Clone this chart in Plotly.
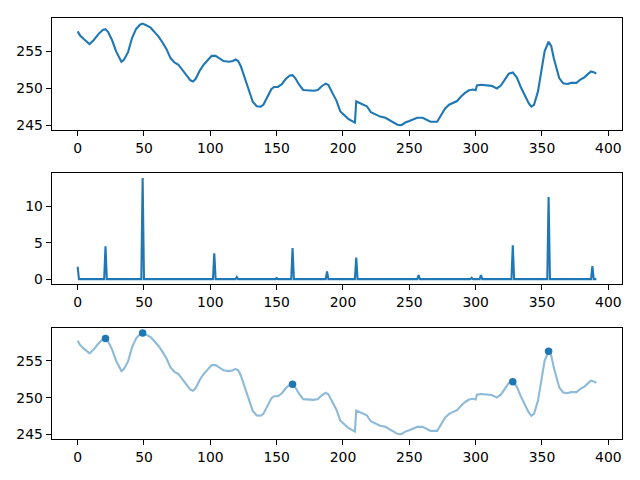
import plotly.graph_objects as go

# ---- data ----
top_x = [0, 2, 5, 9, 12, 16, 19, 21, 23, 26, 29, 32, 33, 35, 38, 41, 44, 47, 49, 52, 55, 58, 61, 64, 67, 70,
         73, 76, 79, 82, 85, 87, 89, 92, 95, 98, 101, 104, 107, 110, 114, 117, 119, 121, 123, 126, 129, 132,
         135, 138, 140, 143, 146, 148, 151, 154, 157, 160, 162, 164, 167, 170, 174, 178, 181, 184, 187, 189,
         192, 195, 198, 201, 204, 207, 209, 210, 213, 216, 218, 221, 224, 228, 232, 235, 238, 241, 244, 247,
         250, 253, 256, 260, 263, 266, 271, 274, 277, 280, 283, 286, 289, 292, 295, 298, 300, 301, 304, 309,
         312, 316, 319, 322, 325, 328, 331, 334, 337, 340, 342, 344, 347, 350, 352, 355, 357, 359, 361, 363,
         366, 369, 372, 376, 379, 382, 385, 387, 389, 391]
top_y = [257.7, 257.1, 256.6, 256.0, 256.5, 257.4, 257.9, 258.0, 257.6, 256.5, 255.0, 253.8, 253.6, 253.9,
         254.9, 256.8, 258.0, 258.6, 258.75, 258.5, 258.2, 257.6, 257.0, 256.2, 255.3, 254.1, 253.5, 253.2,
         252.5, 251.7, 251.1, 250.95, 251.3, 252.4, 253.2, 253.8, 254.4, 254.4, 254.1, 253.7, 253.6, 253.7,
         253.9, 253.7, 253.0, 251.3, 249.7, 248.2, 247.6, 247.55, 247.8, 248.8, 249.9, 250.2, 250.2, 250.6,
         251.3, 251.75, 251.8, 251.4, 250.5, 249.8, 249.75, 249.7, 249.8, 250.3, 250.65, 250.45, 249.4, 248.4,
         246.9, 246.4, 245.9, 245.6, 245.4, 248.25, 248.0, 247.85, 247.6, 246.8, 246.5, 246.2, 246.05, 245.75,
         245.5, 245.1, 245.05, 245.4, 245.6, 245.8, 246.05, 246.05, 245.75, 245.5, 245.5, 246.5, 247.3, 247.8,
         248.0, 248.3, 248.9, 249.4, 249.75, 249.85, 249.75, 250.4, 250.5, 250.45, 250.35, 250.0, 250.4, 251.2,
         252.0, 252.15, 251.5, 250.2, 249.0, 248.0, 247.55, 247.8, 249.6, 252.8, 255.0, 256.3, 255.7, 254.0,
         252.5, 251.4, 250.7, 250.6, 250.75, 250.75, 251.2, 251.5, 252.0, 252.3, 252.2, 252.0]

n_points = 392
spike_idx = [0, 21, 49, 103, 120, 150, 162, 188, 210, 257, 297, 304, 328, 355, 388]
spike_val = [1.7, 4.5, 13.85, 3.55, 0.3, 0.15, 4.25, 1.05, 2.95, 0.55, 0.18, 0.55, 4.65, 11.25, 1.8]

peak_idx = [21, 49, 162, 328, 355]

# ---- build derived series ----
mid_x = list(range(n_points))
mid_y = [0.0] * n_points
for i, v in zip(spike_idx, spike_val):
    mid_y[i] = v
peak_y = [top_y[top_x.index(i)] for i in peak_idx]

blue = "#1f77b4"
fig = go.Figure()
fig.add_trace(go.Scatter(x=top_x, y=top_y, mode="lines", line=dict(color=blue, width=2.1),
                         xaxis="x", yaxis="y", showlegend=False))
fig.add_trace(go.Scatter(x=mid_x, y=mid_y, mode="lines", line=dict(color=blue, width=2.1),
                         xaxis="x2", yaxis="y2", showlegend=False))
fig.add_trace(go.Scatter(x=top_x, y=top_y, mode="lines", line=dict(color=blue, width=2.1),
                         opacity=0.5, xaxis="x3", yaxis="y3", showlegend=False))
fig.add_trace(go.Scatter(x=peak_idx, y=peak_y, mode="markers",
                         marker=dict(color=blue, size=7.5), xaxis="x3", yaxis="y3", showlegend=False))

font = dict(family="DejaVu Sans", size=13.9, color="black")
common = dict(showline=True, mirror=True, linecolor="black", linewidth=1.1, ticks="outside",
              ticklen=5, tickwidth=1.1, tickcolor="black", showgrid=False, zeroline=False,
              tickfont=font)
xdom = [51.7 / 640, 622.3 / 640]
xrange_ = [-19.55, 410.55]
xt = [0, 50, 100, 150, 200, 250, 300, 350, 400]

def ydom(top, bot):
    return [1 - bot / 480, 1 - top / 480]

fig.update_layout(
    width=640, height=480, margin=dict(l=0, r=0, t=0, b=0),
    paper_bgcolor="white", plot_bgcolor="white", font=font,
    xaxis=dict(domain=xdom, range=xrange_, tickvals=xt, anchor="y", **common),
    yaxis=dict(domain=ydom(18.3, 130.7), range=[244.41, 259.48], tickvals=[245, 250, 255], anchor="x", **common),
    xaxis2=dict(domain=xdom, range=xrange_, tickvals=xt, anchor="y2", **common),
    yaxis2=dict(domain=ydom(174, 286), range=[-0.69, 14.54], tickvals=[0, 5, 10], anchor="x2", **common),
    xaxis3=dict(domain=xdom, range=xrange_, tickvals=xt, anchor="y3", **common),
    yaxis3=dict(domain=ydom(329.7, 441.7), range=[244.41, 259.48], tickvals=[245, 250, 255], anchor="x3", **common),
)

fig.write_html("out.html")
